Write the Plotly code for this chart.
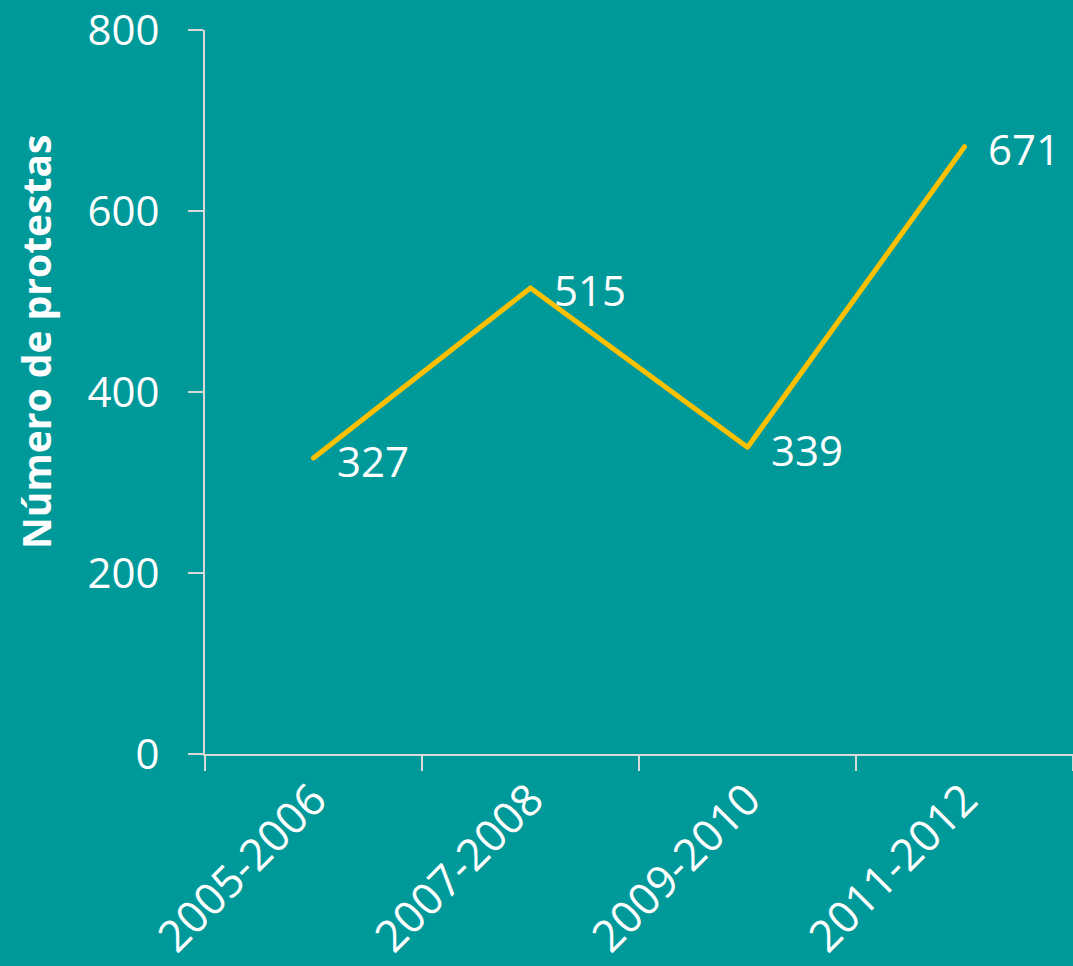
import plotly.graph_objects as go

categories = ["2005-2006", "2007-2008", "2009-2010", "2011-2012"]
protests = [327, 515, 339, 671]
y_ticks = [0, 200, 400, 600, 800]
y_title = "Número de protestas"

BG = "#009999"
LINE = "#FFC000"
AXIS = "#D9D9D9"
FONT = "Open Sans"

fig = go.Figure()
fig.add_trace(go.Scatter(
    x=categories, y=protests, mode="lines",
    line=dict(color=LINE, width=5),
    hoverinfo="skip", showlegend=False,
))
for c, v in zip(categories, protests):
    fig.add_annotation(
        x=c, y=v, text=str(v), showarrow=False,
        xanchor="left", yanchor="middle", xshift=21, yshift=-2,
        font=dict(family=FONT, size=42, color="white"),
    )

# y-axis title as a rotated annotation (placed off-centre as in the original)
fig.add_annotation(
    xref="paper", yref="paper", x=-0.196, y=0.569,
    text="<b>" + y_title + "</b>", textangle=-90, showarrow=False,
    xanchor="center", yanchor="middle",
    font=dict(family=FONT, size=39, color="white"),
)

fig.update_layout(
    width=1073, height=966,
    margin=dict(l=205, r=0, t=26, b=212),
    paper_bgcolor=BG, plot_bgcolor=BG,
    font=dict(family=FONT, color="white"),
)
fig.update_xaxes(
    type="category", range=[-0.5, 3.5],
    showline=True, linecolor=AXIS, linewidth=2,
    ticks="outside", tickson="boundaries", ticklen=15, tickwidth=2, tickcolor=AXIS,
    tickangle=-45, tickfont=dict(family=FONT, size=44, color="white"),
    showgrid=False, zeroline=False,
)
fig.update_yaxes(
    range=[0, 800], tickvals=y_ticks,
    showline=True, linecolor=AXIS, linewidth=2,
    ticks="outside", ticklen=15, tickwidth=2, tickcolor=AXIS,
    tickfont=dict(family=FONT, size=42, color="white"),
    ticklabelstandoff=20, ticklabeloverflow="allow",
    showgrid=False, zeroline=False,
)

post = (
    "document.body.style.margin='0';"
    "document.body.style.background='" + BG + "';"
    "document.querySelectorAll('.scatterlayer path.js-line').forEach(function(p){"
    "p.style.strokeLinecap='round';p.style.strokeLinejoin='round';});"
)
fig.write_html("out.html", post_script=post, config={"displayModeBar": False})
